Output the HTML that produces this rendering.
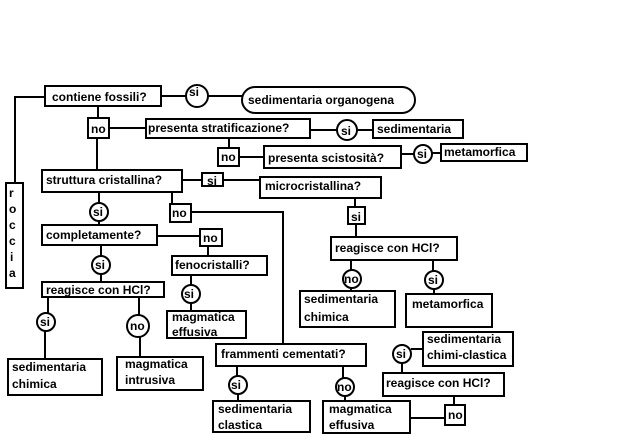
<!DOCTYPE html>
<html><head><meta charset="utf-8"><style>
html,body{margin:0;padding:0;background:#fff;}
svg{display:block}
text{font-family:"Liberation Sans",sans-serif;font-weight:bold;font-size:12px;fill:#000}
</style></head><body>
<svg width="640" height="437" viewBox="0 0 640 437" xmlns="http://www.w3.org/2000/svg">
<g fill="none" stroke="#000" stroke-width="2">
<!-- lines -->
<polyline points="15,183 15,97 45,97"/>
<line x1="161" y1="96" x2="186" y2="96"/><line x1="208" y1="96" x2="242" y2="96"/>
<line x1="98" y1="106" x2="98" y2="118"/>
<line x1="109" y1="128" x2="146" y2="128"/>
<line x1="310" y1="130" x2="337" y2="130"/><line x1="357" y1="130" x2="373" y2="130"/>
<line x1="229" y1="138" x2="229" y2="148"/>
<line x1="239" y1="157" x2="264" y2="157"/>
<line x1="401" y1="154" x2="414" y2="154"/><line x1="432" y1="153" x2="441" y2="153"/>
<line x1="97" y1="138" x2="97" y2="170"/>
<line x1="182" y1="180" x2="202" y2="180"/><line x1="223" y1="180" x2="260" y2="180"/>
<line x1="355" y1="198" x2="355" y2="207"/><line x1="356" y1="224" x2="356" y2="237"/>
<line x1="351" y1="260" x2="351" y2="270"/><line x1="351" y1="288" x2="351" y2="291"/>
<line x1="433" y1="260" x2="433" y2="271"/><line x1="434" y1="289" x2="434" y2="294"/>
<line x1="99" y1="192" x2="99" y2="203"/><line x1="99" y1="221" x2="99" y2="225"/>
<line x1="157" y1="236" x2="200" y2="236"/>
<line x1="208" y1="246" x2="208" y2="257"/>
<line x1="191" y1="275" x2="191" y2="285"/><line x1="191" y1="303" x2="191" y2="310"/>
<line x1="172" y1="192" x2="172" y2="204"/>
<polyline points="191,212 283,212 283,343"/>
<line x1="101" y1="245" x2="101" y2="256"/><line x1="101" y1="274" x2="101" y2="282"/>
<line x1="48" y1="297" x2="48" y2="313"/><line x1="45" y1="331" x2="45" y2="358"/>
<line x1="139" y1="297" x2="139" y2="315"/><line x1="140" y1="337" x2="140" y2="357"/>
<line x1="237" y1="366" x2="237" y2="376"/><line x1="238" y1="394" x2="238" y2="401"/>
<line x1="343" y1="366" x2="343" y2="378"/><line x1="345" y1="396" x2="345" y2="401"/>
<line x1="411" y1="349" x2="423" y2="349"/>
<line x1="402" y1="363" x2="402" y2="373"/>
<line x1="454" y1="396" x2="454" y2="405"/>
<line x1="410" y1="418" x2="445" y2="418"/>
<!-- boxes -->
<rect x="6" y="183" width="17" height="105"/>
<rect x="45" y="86" width="116" height="20"/>
<rect x="242" y="87" width="173" height="26" rx="13"/>
<rect x="88" y="118" width="21" height="20"/>
<rect x="146" y="119" width="164" height="19"/>
<rect x="373" y="120" width="90" height="18"/>
<rect x="218" y="148" width="21" height="18"/>
<rect x="264" y="146" width="137" height="22"/>
<rect x="441" y="144" width="86" height="17"/>
<rect x="42" y="170" width="140" height="22"/>
<rect x="202" y="173" width="21" height="13"/>
<rect x="260" y="177" width="121" height="21"/>
<rect x="348" y="207" width="17" height="17"/>
<rect x="331" y="237" width="126" height="23"/>
<rect x="300" y="291" width="95" height="36"/>
<rect x="406" y="294" width="86" height="33"/>
<rect x="170" y="204" width="21" height="18"/>
<rect x="42" y="225" width="115" height="20"/>
<rect x="200" y="229" width="22" height="17"/>
<rect x="172" y="256" width="95" height="19"/>
<rect x="167" y="311" width="79" height="27"/>
<rect x="42" y="282" width="122" height="15"/>
<rect x="8" y="359" width="94" height="36"/>
<rect x="117" y="357" width="86" height="33"/>
<rect x="216" y="344" width="150" height="22"/>
<rect x="213" y="401" width="97" height="31"/>
<rect x="323" y="401" width="87" height="32"/>
<rect x="423" y="332" width="90" height="34"/>
<rect x="383" y="373" width="121" height="23"/>
<rect x="445" y="405" width="20" height="20"/>
<!-- circles -->
<circle cx="197" cy="96" r="11"/>
<circle cx="347" cy="130" r="10"/>
<circle cx="423" cy="154" r="9"/>
<circle cx="99" cy="212" r="9"/>
<circle cx="101" cy="265" r="9"/>
<circle cx="191" cy="294" r="9"/>
<circle cx="46" cy="322" r="9"/>
<circle cx="138" cy="326" r="11"/>
<circle cx="238" cy="385" r="9"/>
<circle cx="345" cy="387" r="9"/>
<circle cx="352" cy="279" r="9"/>
<circle cx="434" cy="280" r="9"/>
<circle cx="402" cy="354" r="9"/>
</g>
<text x="52" y="101">contiene fossili?</text>
<text x="189" y="96">si</text>
<text x="248" y="104">sedimentaria organogena</text>
<text x="91" y="133">no</text>
<text x="148" y="132">presenta stratificazione?</text>
<text x="341" y="135">si</text>
<text x="377" y="133">sedimentaria</text>
<text x="221" y="161">no</text>
<text x="268" y="162">presenta scistosità?</text>
<text x="417" y="158">si</text>
<text x="444" y="156">metamorfica</text>
<text x="9" y="197" font-size="11">r</text>
<text x="9" y="213" font-size="11">o</text>
<text x="9" y="229" font-size="11">c</text>
<text x="9" y="245" font-size="11">c</text>
<text x="10" y="261" font-size="11">i</text>
<text x="9" y="277" font-size="11">a</text>
<text x="46" y="184">struttura cristallina?</text>
<text x="207" y="185">si</text>
<text x="265" y="190">microcristallina?</text>
<text x="351" y="221">si</text>
<text x="335" y="252">reagisce con HCl?</text>
<text x="93" y="216">si</text>
<text x="172" y="217">no</text>
<text x="46" y="239">completamente?</text>
<text x="203" y="242">no</text>
<text x="175" y="269">fenocristalli?</text>
<text x="95" y="269">si</text>
<text x="184" y="298">si</text>
<text x="46" y="294">reagisce con HCl?</text>
<text x="40" y="326">si</text>
<text x="130" y="330">no</text>
<text x="172" y="321">magmatica</text>
<text x="172" y="336">effusiva</text>
<text x="12" y="371">sedimentaria</text>
<text x="12" y="388">chimica</text>
<text x="125" y="368">magmatica</text>
<text x="125" y="384">intrusiva</text>
<text x="221" y="358">frammenti cementati?</text>
<text x="231" y="389">si</text>
<text x="337" y="391">no</text>
<text x="218" y="413">sedimentaria</text>
<text x="218" y="429">clastica</text>
<text x="329" y="413">magmatica</text>
<text x="329" y="429">effusiva</text>
<text x="304" y="303">sedimentaria</text>
<text x="304" y="321">chimica</text>
<text x="344" y="283">no</text>
<text x="428" y="284">si</text>
<text x="412" y="308">metamorfica</text>
<text x="427" y="343">sedimentaria</text>
<text x="427" y="359">chimi-clastica</text>
<text x="396" y="358">si</text>
<text x="386" y="387">reagisce con HCl?</text>
<text x="448" y="419">no</text>
</svg>
</body></html>
